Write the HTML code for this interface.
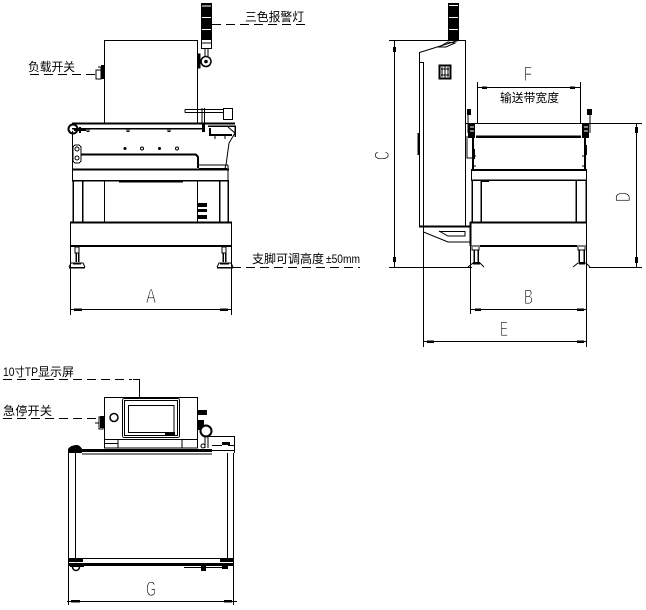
<!DOCTYPE html>
<html><head><meta charset="utf-8"><style>
html,body{margin:0;padding:0;background:#fff}
svg{display:block}
text{font-family:"Liberation Sans","WenQuanYi Zen Hei","Noto Sans CJK SC",sans-serif;fill:#000}
.t{font-size:12px}
text.l{font-size:21px;font-family:"Liberation Sans",sans-serif;stroke:#fff;stroke-width:.9px}
</style></head><body>
<svg width="646" height="610" viewBox="0 0 646 610" fill="none" stroke="#000" stroke-width="1" shape-rendering="crispEdges">
<!-- FRONT VIEW -->
<path d="M104.500 123V40.500H197.500V123"/>
<rect x="201" y="3" width="11" height="36" fill="#000" stroke="none"/>
<path d="M202 6H211M202 17.500H211M202 29.500H211" stroke="#fff"/>
<rect x="201.500" y="39.500" width="10" height="9" fill="#fff"/>
<path d="M201 43H212"/>
<path d="M205 49V56M208 49V56"/>
<rect x="198" y="54" width="2" height="14" fill="#000"/>
<circle cx="206" cy="61.500" r="5" stroke-width="1.500" shape-rendering="auto"/>
<circle cx="206" cy="61.500" r="1.800" fill="#000" stroke="none" shape-rendering="auto"/>
<rect x="101" y="65" width="3.500" height="14" fill="#000" stroke="none"/>
<path d="M96 70H101V79H96ZM98 67H101V70"/>
<!-- handle -->
<path d="M185 109.500H224M185 112.500H224M185 109.500V112.500"/>
<path d="M202 108V124M204.500 108V124"/>
<rect x="223.500" y="108.500" width="9" height="11"/>
<!-- belt -->
<path d="M72 123.500H235" stroke-width="2"/>
<path d="M72 128.500H202" stroke-width="1.500"/>
<path d="M208 126H235V137" stroke-width="1.500"/>
<circle cx="73" cy="129" r="4.500" stroke-width="2" shape-rendering="auto"/>
<path d="M74 130H86M80 127V133" stroke-width="2"/>
<rect x="87" y="128.500" width="2" height="3"/><rect x="127" y="128.500" width="2" height="3"/><rect x="168" y="128.500" width="2" height="3"/>
<rect x="202" y="124" width="3" height="8" fill="#000" stroke="none"/>
<path d="M210 128V135H232" stroke-width="2"/>
<path d="M228 127L235 133L229 143L226 165L225 168" shape-rendering="auto"/>
<path d="M215 135V139M225 135V139"/>
<path d="M72.500 131V170"/>
<rect x="73" y="145" width="8" height="18" rx="3"/>
<circle cx="77" cy="149" r="2" shape-rendering="auto"/>
<circle cx="77" cy="158" r="2" shape-rendering="auto"/>
<path d="M81 154.500H196L198 157V168" stroke-width="2"/>
<circle cx="125" cy="148.500" r="1.500" fill="#000" stroke="none" shape-rendering="auto"/>
<circle cx="142" cy="148.500" r="1.500" shape-rendering="auto"/>
<circle cx="159.500" cy="148.500" r="1.500" fill="#000" stroke="none" shape-rendering="auto"/>
<circle cx="177" cy="148.500" r="1.500" shape-rendering="auto"/>
<path d="M198 165H228M199 168.500H227"/>
<path d="M72.500 170V180M228 165V180"/>
<path d="M72 169.500H229" stroke-width="2"/>
<path d="M72 180.500H229" stroke-width="1.500"/>
<path d="M119 181.500H183" stroke-width="2"/>
<path d="M73 181V222M82.500 181V222M219.500 181V222M228 181V222" stroke-width="1.500"/>
<path d="M104.500 181V222M197.500 181V222"/>
<rect x="198" y="203" width="9" height="4" fill="#000" stroke="none"/>
<rect x="198" y="209" width="9" height="3" fill="#000" stroke="none"/>
<rect x="198" y="215" width="9" height="4" fill="#000" stroke="none"/>
<rect x="70.500" y="222.500" width="161" height="23.500"/>
<path d="M70 222.500H232" stroke-width="2"/>
<path d="M70 246H232" stroke-width="2"/>
<!-- feet -->
<path d="M75 247V253H79V247ZM222 247V253H226V247Z"/>
<path d="M76 253V262M78.500 253V262M223 253V262M225.500 253V262" stroke-width="1.500"/>
<path d="M69 267.500H85M217 267.500H233" stroke-width="1.500"/>
<path d="M69 267L71 263H83L85 267M217 267L219 263H231L233 267" shape-rendering="auto"/>
<path d="M73 263.500H81M220 263.500H229" stroke-width="2"/>
<!-- A dim -->
<path d="M70.500 246V315M231.500 246V315"/>
<path d="M70 309.500H232"/>
<path d="M74 309.500H82M220 309.500H228" stroke-width="2.500"/>
<text class="l" x="146" y="303" textLength="10" lengthAdjust="spacingAndGlyphs">A</text>

<!-- SIDE VIEW (cabinet) -->
<path d="M389 40.500H465.500V123"/>
<path d="M419.500 62V52.500L458 40.500" shape-rendering="auto"/>
<path d="M439 47L448 42L455 43L446 47Z" shape-rendering="auto"/>
<path d="M419.500 52V226.500"/>
<path d="M419 62.500H423.500V226.500"/>
<path d="M418.500 133V155" stroke-width="2"/>
<path d="M465.500 123V226"/>
<rect x="448" y="3" width="11" height="37" fill="#000" stroke="none"/>
<path d="M449 5.500H458M449 17.500H458M449 29.500H458" stroke="#fff"/>
<rect x="439.500" y="65.500" width="11" height="13" stroke-width="2"/>
<path d="M442 67V77M445 66V78M448 67V77M441 69H449M441 75H449"/>
<!-- wedge -->
<path d="M419 226.500H471" stroke-width="2"/>
<path d="M423.500 227V232L448 242H470.500" shape-rendering="auto"/>
<path d="M439 231L448 236H465V231.500H439" shape-rendering="auto"/>
<!-- C dim -->
<path d="M394.500 40V267"/>
<rect x="393" y="47" width="3" height="5" fill="#000" stroke="none"/>
<rect x="393" y="257" width="3" height="5" fill="#000" stroke="none"/>
<path d="M389 267.500H472M589 267.500H642"/>
<text class="l" transform="translate(389,160) rotate(-90)" x="0" y="0" textLength="9" lengthAdjust="spacingAndGlyphs">C</text>
<!-- RIGHT VIEW -->
<path d="M465 123.500H642"/>
<rect x="468" y="123" width="7" height="15" fill="#000" stroke="none"/>
<rect x="582" y="123" width="7" height="15" fill="#000" stroke="none"/>
<path d="M470 127H474M470 131H474M584 127H588M584 131H588" stroke="#fff"/>
<path d="M476 136.500H581" stroke-width="2.500"/>
<path d="M473 138V170M585 138V170" stroke-width="2"/>
<path d="M468 112V133M590 110V133M586 133H589"/>
<rect x="467" y="109" width="4" height="6" fill="#000" stroke="none"/>
<rect x="587" y="109" width="5" height="6" fill="#000" stroke="none"/>
<path d="M467 136V158H472"/>
<rect x="472" y="149" width="3" height="10" fill="#000" stroke="none"/>
<rect x="584" y="145" width="3" height="10" fill="#000" stroke="none"/>
<path d="M474 156H476M582 156H584M474 166H476M582 166H584"/>
<rect x="471.500" y="170" width="115" height="10"/>
<path d="M471 170H587" stroke-width="2"/>
<path d="M471 180H587" stroke-width="1.500"/>
<path d="M472 180V223M481 180V223M576 180V223M586 180V223" stroke-width="1.500"/>
<rect x="481" y="180" width="8" height="2" fill="#000" stroke="none"/>
<rect x="470.500" y="222.500" width="116" height="23.500"/>
<path d="M470 222.500H587" stroke-width="2"/>
<path d="M480 246H577" stroke-width="2"/>
<path d="M470.500 222V246" stroke-width="2"/>
<path d="M472 247V250H479V247M578 247V250H585V247"/>
<path d="M474 250V262M478 250V262M579 250V262M584 250V262" stroke-width="1.500"/>
<path d="M473 263H480M579 263H585" stroke-width="2.500"/>
<path d="M468 267L473 263H480L484 267M573 267L578 263H586L590 267" shape-rendering="auto"/>
<!-- F dim -->
<path d="M477.500 82V123M580.500 82V123"/>
<path d="M477 87.500H581"/>
<path d="M482 87.500H487M570 87.500H575" stroke-width="2.500"/>
<text class="l" x="524" y="81" textLength="8" lengthAdjust="spacingAndGlyphs">F</text>
<!-- D dim -->
<path d="M636.500 124V267"/>
<rect x="635" y="127" width="3" height="6" fill="#000" stroke="none"/>
<rect x="635" y="257" width="3" height="6" fill="#000" stroke="none"/>
<text class="l" transform="translate(630,202) rotate(-90)" x="0" y="0" textLength="10" lengthAdjust="spacingAndGlyphs">D</text>
<!-- B / E dims -->
<path d="M470.500 246V314M586.500 246V347M423.500 227V347"/>
<path d="M471 309.500H587M424 341.500H587"/>
<path d="M475 309.500H481M577 309.500H584M427 341.500H434M577 341.500H584" stroke-width="2.500"/>
<text class="l" x="524" y="304" textLength="9" lengthAdjust="spacingAndGlyphs">B</text>
<text class="l" x="500" y="336" textLength="8" lengthAdjust="spacingAndGlyphs">E</text>

<!-- REAR/TOP VIEW -->
<rect x="104.500" y="397.500" width="93" height="50.500"/>
<rect x="122.500" y="398.500" width="57" height="39" rx="2"/>
<rect x="124.500" y="400.500" width="53" height="35"/>
<rect x="128.500" y="405.500" width="45.500" height="27"/>
<rect x="165" y="432" width="10" height="3" fill="#000" stroke="none"/>
<path d="M105 439.500H197M105 443.500H118M118 440V448M182 440V448"/>
<circle cx="114" cy="417.500" r="4" stroke-width="1.500" shape-rendering="auto"/>
<rect x="100" y="416" width="4" height="12" fill="#000" stroke="none"/>
<path d="M99 417H103V429H99ZM95 423H99"/>
<rect x="198" y="410" width="9" height="5" fill="#000" stroke="none"/>
<rect x="198" y="420" width="6" height="10" fill="#000" stroke="none"/>
<circle cx="206" cy="431" r="5.500" fill="#fff" stroke-width="2" shape-rendering="auto"/>
<path d="M205 437V448M208 437V448"/>
<path d="M208 436.500H234.500V453M212 445.500H222M228 445.500H234M212 450.500H234"/>
<rect x="222" y="442" width="8" height="3" fill="#000" stroke="none"/>
<circle cx="203" cy="446" r="2" shape-rendering="auto"/>
<path d="M68 453V449C70 446 74 445 77 445C79 445 81 447 82 449H68Z" fill="#000" stroke="none" shape-rendering="auto"/>
<rect x="68" y="449" width="14" height="4" fill="#000" stroke="none"/>
<rect x="75" y="449" width="137" height="3" fill="#000" stroke="none"/>
<path d="M82 454H212"/>
<path d="M68.500 452V566M75.500 453V559M227.500 453V559M233.500 453V566"/>
<path d="M69 558.500H233"/>
<rect x="69" y="563" width="164" height="3" fill="#000" stroke="none"/>
<rect x="69" y="559" width="14" height="3" fill="#000" stroke="none"/>
<rect x="220" y="559" width="13" height="3" fill="#000" stroke="none"/>
<circle cx="76" cy="567" r="3.500" stroke-width="1.500" shape-rendering="auto"/>
<path d="M70 566H84" stroke-width="2"/>
<path d="M184 567.500H224"/>
<rect x="201" y="565" width="5" height="6" fill="#000" stroke="none"/>
<rect x="222" y="565" width="6" height="4" fill="#000" stroke="none"/>
<!-- G dim -->
<path d="M68.500 566V605M233.500 566V605"/>
<path d="M67 601.500H237"/>
<path d="M71 601H80M224 601H232" stroke-width="2.500"/>
<text class="l" x="146" y="596" textLength="10" lengthAdjust="spacingAndGlyphs">G</text>

<!-- LEADERS -->
<g stroke-dasharray="9 5">
<path d="M212 24.500H305"/>
<path d="M30 74.500H96"/>
<path d="M232 267.500H360"/>
<path d="M3 379.500H132"/>
<path d="M3 418.500H99"/>
</g>
<path d="M133 379.500H139.500V399"/>
<!-- LABELS -->
<g stroke="none" shape-rendering="auto">
<text class="t" x="245" y="21" textLength="59" lengthAdjust="spacingAndGlyphs">三色报警灯</text>
<text class="t" x="28" y="71" textLength="47" lengthAdjust="spacingAndGlyphs">负载开关</text>
<text class="t" x="252" y="263" textLength="72" lengthAdjust="spacingAndGlyphs">支脚可调高度</text>
<text class="t" x="326" y="263" textLength="34" lengthAdjust="spacingAndGlyphs">±50mm</text>
<text class="t" x="500" y="102" textLength="59" lengthAdjust="spacingAndGlyphs">输送带宽度</text>
<text class="t" x="3" y="376" textLength="35" lengthAdjust="spacingAndGlyphs">10寸TP</text>
<text class="t" x="38" y="376" textLength="36" lengthAdjust="spacingAndGlyphs">显示屏</text>
<text class="t" x="3" y="415" textLength="49" lengthAdjust="spacingAndGlyphs">急停开关</text>
</g>
</svg>
</body></html>
